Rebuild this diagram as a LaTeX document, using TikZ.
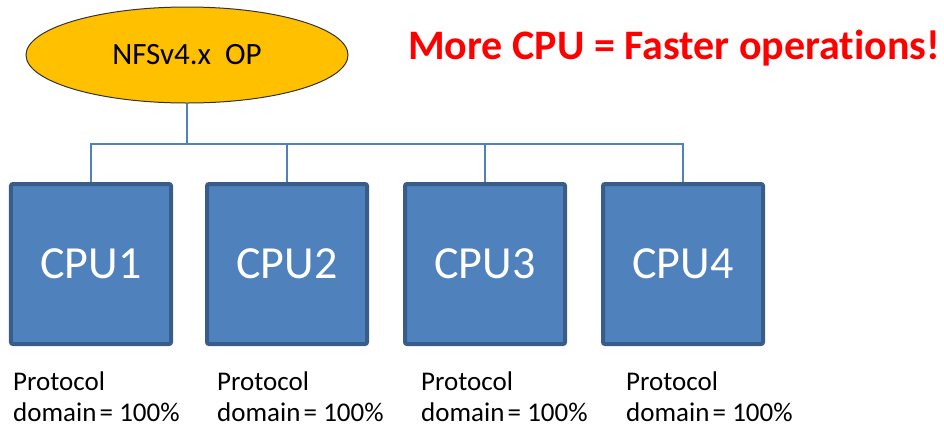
\documentclass[tikz,border=0pt]{standalone}
\usepackage{fontspec}
\setmainfont{Carlito}[Ligatures=NoCommon]
\usetikzlibrary{shapes.geometric}
\definecolor{cpufill}{HTML}{4F81BD}
\definecolor{cpuedge}{HTML}{385D8A}
\definecolor{opfill}{HTML}{FFC000}
\definecolor{busline}{HTML}{4F81BD}
\tikzset{
  cpubox/.style={draw=cpuedge, fill=cpufill, line width=4bp, rounded corners=2bp,
    minimum width=160bp, minimum height=160bp, inner sep=0pt, text=white,
    font=\fontsize{46bp}{50bp}\selectfont},
  opnode/.style={ellipse, draw=black!80, fill=opfill, line width=1bp,
    minimum width=322bp, minimum height=96bp, inner sep=0pt,
    font=\fontsize{31bp}{34bp}\selectfont},
  share/.style={anchor=north west, align=left, inner sep=0pt,
    font=\fontsize{27bp}{31bp}\selectfont},
  bus/.style={draw=busline, line width=1.5bp},
  slogan/.style={anchor=base west, inner sep=0pt, text=red,
    font=\bfseries\fontsize{42bp}{46bp}\selectfont}
}
\begin{document}
\begin{tikzpicture}[x=1bp, y=-1bp]
  \useasboundingbox (0,0) rectangle (944,428);
  \node[opnode] (op) at (187,55) {NFSv4.x\ \ OP};
  \node[slogan] (motto) at (408,59) {More CPU = Faster operations!};
  \coordinate (bus) at (187,144);
  \foreach \i/\x/\tx in {1/91/13, 2/287/217, 3/485/421, 4/683/626} {
    \node[cpubox] (cpu\i) at (\x,264) {CPU\i};
    \node[share] (dom\i) at (\tx,372) {Protocol\\domain\hspace{0.12em}= 100\%};
    \draw[bus] (op.south) -- (op.south |- bus) -| (cpu\i.north);
  }
\end{tikzpicture}
\end{document}
